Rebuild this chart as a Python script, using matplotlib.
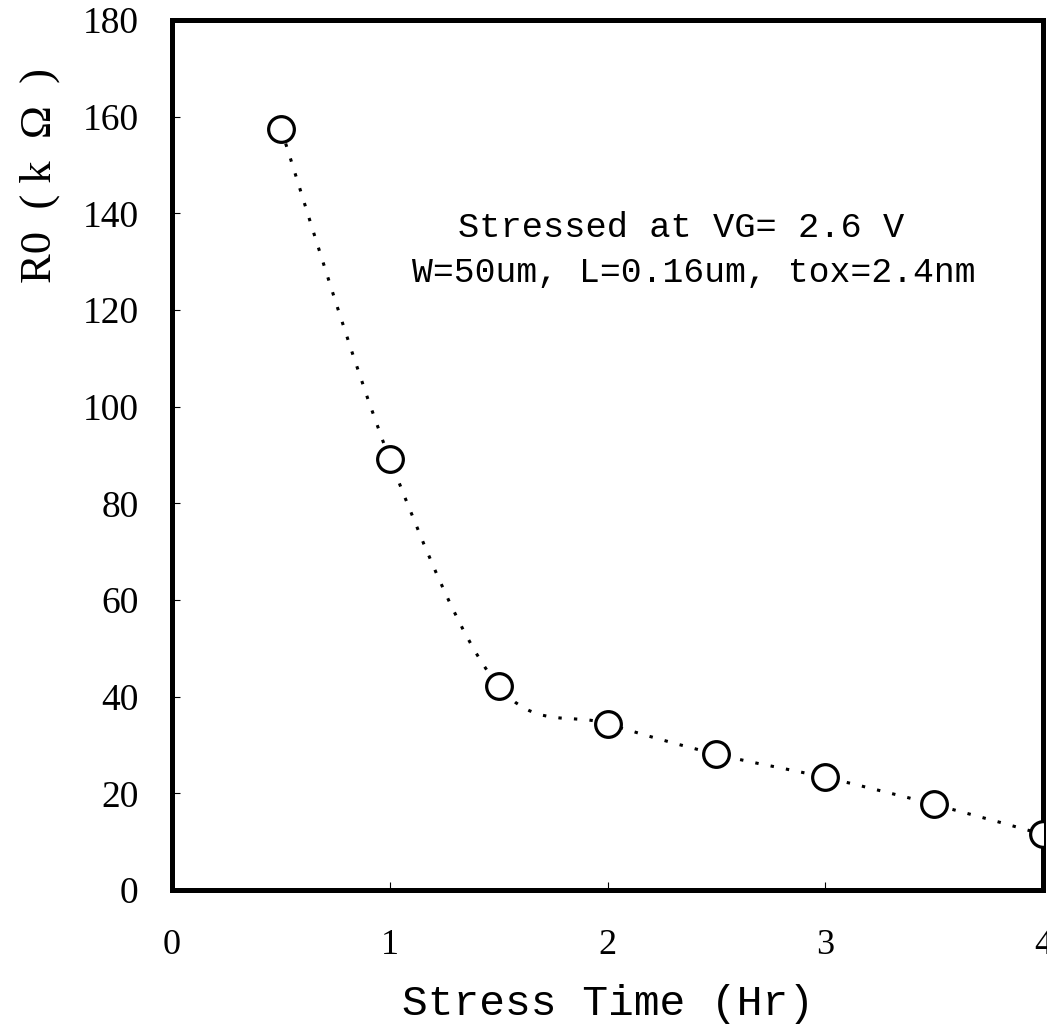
import matplotlib
matplotlib.use('Agg')
import matplotlib.pyplot as plt
from matplotlib.path import Path
from matplotlib.patches import PathPatch

# ---- data ----
stress_time = [0.5, 1.0, 1.5, 2.0, 2.5, 3.0, 3.5, 4.0]
r0_kohm = [157.5, 89.2, 42.2, 34.4, 28.1, 23.3, 17.7, 11.5]
x_ticks = [0, 1, 2, 3, 4]
y_ticks = [0, 20, 40, 60, 80, 100, 120, 140, 160, 180]
note_lines = ["Stressed at VG= 2.6 V", "W=50um, L=0.16um, tox=2.4nm"]

SERIF = ['Liberation Serif', 'DejaVu Serif']
NARROW = ['DejaVu Serif Condensed', 'Liberation Serif', 'DejaVu Serif']
MONO = ['Liberation Mono', 'DejaVu Sans Mono']


def smooth_path(xs, ys):
    pts = list(zip(xs, ys))
    n = len(pts)
    verts = [pts[0]]
    codes = [Path.MOVETO]
    for i in range(n - 1):
        p0 = pts[i - 1] if i > 0 else pts[i]
        p1 = pts[i]
        p2 = pts[i + 1]
        p3 = pts[i + 2] if i + 2 < n else pts[i + 1]
        c1 = (p1[0] + (p2[0] - p0[0]) / 6.0, p1[1] + (p2[1] - p0[1]) / 6.0)
        c2 = (p2[0] - (p3[0] - p1[0]) / 6.0, p2[1] - (p3[1] - p1[1]) / 6.0)
        verts += [c1, c2, p2]
        codes += [Path.CURVE4] * 3
    return Path(verts, codes)


fig = plt.figure(figsize=(10.47, 10.32), dpi=100)
ax = fig.add_axes([0.1643, 0.1376, 0.8319, 0.843])

patch = PathPatch(smooth_path(stress_time, r0_kohm), fill=False, edgecolor='black',
                  lw=2.2, linestyle=(0, (1.1, 4.0)), capstyle='butt', zorder=2)
ax.add_patch(patch)
ax.plot(stress_time, r0_kohm, linestyle='none', marker='o', markersize=18.5,
        markerfacecolor='white', markeredgecolor='black', markeredgewidth=2.3, zorder=3)

ax.set_xlim(0, 4)
ax.set_ylim(0, 180)
ax.set_xticks(x_ticks)
ax.set_yticks(y_ticks)
ax.set_xticklabels([str(v) for v in x_ticks], family=NARROW, fontsize=26)
ax.set_yticklabels([str(v) for v in y_ticks], family=SERIF, fontsize=27)
ax.tick_params(axis='both', direction='in', length=6, width=0.8, color='black')
ax.tick_params(axis='x', pad=28)
ax.tick_params(axis='y', pad=24)
for s in ax.spines.values():
    s.set_linewidth(3.6)
    s.set_color('black')

ax.set_xlabel("Stress Time (Hr)", family=MONO, fontsize=31, labelpad=16)
fig.text(0.038, 0.83, "R0  ( k  Ω  )", rotation=90, family=SERIF, fontsize=32,
         ha='center', va='center')

ax.text(2.338, 137, note_lines[0], family=MONO, fontsize=25.5, ha='center', va='center')
ax.text(2.397, 127.8, note_lines[1], family=MONO, fontsize=25.0, ha='center', va='center')

fig.savefig('out.png', dpi=100)
